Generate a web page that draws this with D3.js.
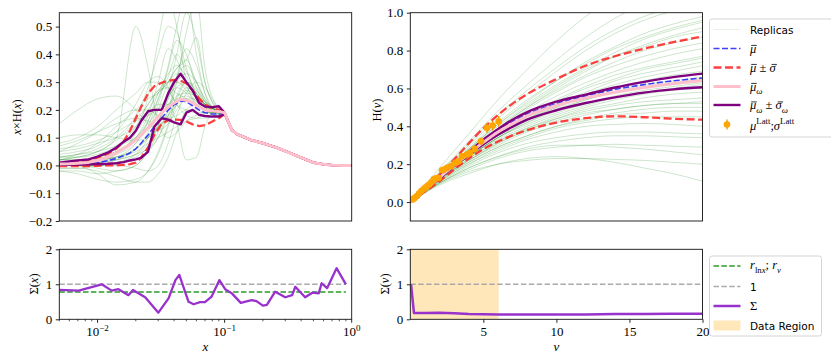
<!DOCTYPE html>
<html>
<head>
<meta charset="utf-8">
<script src="https://cdn.jsdelivr.net/npm/d3@7/dist/d3.min.js"></script>
<style>
  body { margin: 0; background: #fff; }
  svg { display: block; }
</style>
</head>
<body>
<svg id="chart" width="831" height="363"></svg>
<script>
// ---------- left panel: x * H(x) ----------
var xRep = [0.005, 0.007, 0.01, 0.014, 0.02, 0.025, 0.03, 0.036, 0.042, 0.05, 0.06, 0.07, 0.085, 0.1];
var replicasX = [
    [0.02, 0.03, 0.05, 0.09, 0.16, 0.22, 0.27, 0.3, 0.3, 0.27, 0.23, 0.2, 0.19, 0.19],
    [0.0, 0.01, 0.02, 0.05, 0.1, 0.15, 0.2, 0.25, 0.28, 0.26, 0.22, 0.2, 0.19, 0.19],
    [0.05, 0.08, 0.12, 0.17, 0.2, 0.2, 0.18, 0.17, 0.18, 0.2, 0.2, 0.19, 0.19, 0.19],
    [0.15, 0.2, 0.24, 0.25, 0.2, 0.15, 0.13, 0.15, 0.2, 0.24, 0.22, 0.2, 0.19, 0.19],
    [-0.02, -0.02, -0.03, -0.02, 0.0, 0.05, 0.12, 0.2, 0.28, 0.3, 0.25, 0.21, 0.19, 0.19],
    [0.01, 0.0, -0.03, -0.07, -0.06, -0.02, 0.05, 0.15, 0.25, 0.3, 0.27, 0.23, 0.2, 0.19],
    [0.0, 0.0, 0.0, 0.02, 0.06, 0.12, 0.22, 0.35, 0.45, 0.4, 0.28, 0.22, 0.2, 0.19],
    [0.03, 0.04, 0.06, 0.1, 0.18, 0.28, 0.4, 0.5, 0.48, 0.35, 0.25, 0.21, 0.19, 0.19],
    [0.0, 0.01, 0.01, 0.02, 0.04, 0.08, 0.15, 0.27, 0.4, 0.55, 0.45, 0.3, 0.21, 0.19],
    [0.02, 0.02, 0.03, 0.05, 0.1, 0.18, 0.3, 0.42, 0.38, 0.3, 0.25, 0.22, 0.2, 0.19],
    [0.06, 0.07, 0.09, 0.12, 0.16, 0.18, 0.2, 0.22, 0.24, 0.25, 0.23, 0.21, 0.2, 0.19],
    [0.0, 0.0, 0.0, 0.0, -0.01, -0.02, 0.0, 0.08, 0.18, 0.26, 0.3, 0.28, 0.22, 0.19],
    [0.1, 0.11, 0.11, 0.1, 0.09, 0.1, 0.13, 0.18, 0.24, 0.3, 0.28, 0.23, 0.2, 0.19],
    [-0.01, -0.01, -0.02, -0.04, -0.06, -0.06, -0.03, 0.03, 0.12, 0.2, 0.22, 0.2, 0.18, 0.19],
    [0.04, 0.05, 0.07, 0.12, 0.22, 0.3, 0.32, 0.28, 0.22, 0.18, 0.17, 0.17, 0.18, 0.19],
    [0.0, 0.0, 0.01, 0.03, 0.08, 0.16, 0.26, 0.33, 0.36, 0.32, 0.26, 0.22, 0.19, 0.19],
    [0.01, 0.02, 0.03, 0.06, 0.12, 0.18, 0.22, 0.22, 0.15, 0.02, 0.03, 0.14, 0.2, 0.19],
    [0.0, 0.0, 0.01, 0.04, 0.12, 0.25, 0.45, 0.6, 0.5, 0.3, 0.22, 0.2, 0.19, 0.19],
    [0.02, 0.03, 0.05, 0.1, 0.5, 0.35, 0.15, 0.1, 0.12, 0.16, 0.18, 0.19, 0.19, 0.19],
    [0.0, 0.0, 0.0, 0.01, 0.03, 0.07, 0.14, 0.24, 0.32, 0.36, 0.3, 0.24, 0.2, 0.19],
    [0.03, 0.03, 0.04, 0.07, 0.14, 0.22, 0.27, 0.28, 0.26, 0.24, 0.22, 0.2, 0.19, 0.19],
    [-0.01, -0.01, 0.0, 0.01, 0.04, 0.1, 0.2, 0.3, 0.35, 0.38, 0.46, 0.3, 0.21, 0.19],
    [0.07, 0.09, 0.12, 0.15, 0.17, 0.16, 0.15, 0.17, 0.22, 0.28, 0.26, 0.22, 0.2, 0.19],
    [0.0, 0.01, 0.02, 0.03, 0.05, 0.08, 0.1, 0.12, 0.14, 0.16, 0.17, 0.18, 0.18, 0.19],
    [0.01, 0.01, 0.02, 0.04, 0.08, 0.14, 0.24, 0.36, 0.5, 0.62, 0.4, 0.26, 0.2, 0.19],
    [0.02, 0.04, 0.08, 0.14, 0.2, 0.24, 0.26, 0.3, 0.33, 0.3, 0.24, 0.21, 0.19, 0.19],
    [0.0, 0.0, -0.01, -0.02, 0.0, 0.06, 0.16, 0.26, 0.3, 0.28, 0.24, 0.21, 0.19, 0.19],
    [0.05, 0.06, 0.08, 0.1, 0.14, 0.2, 0.26, 0.3, 0.35, 0.38, 0.3, 0.23, 0.2, 0.19],
    [0.0, 0.0, 0.01, 0.02, 0.04, 0.06, 0.1, 0.2, 0.32, 0.42, 0.36, 0.26, 0.2, 0.19],
    [0.08, 0.1, 0.14, 0.2, 0.26, 0.3, 0.3, 0.27, 0.22, 0.2, 0.19, 0.19, 0.19, 0.19],
    [0.01, 0.01, 0.02, 0.03, 0.06, 0.1, 0.16, 0.22, 0.25, 0.26, 0.25, 0.23, 0.2, 0.19],
    [-0.02, -0.03, -0.05, -0.06, -0.05, -0.02, 0.04, 0.14, 0.22, 0.27, 0.25, 0.22, 0.19, 0.19],
    [0.02, 0.02, 0.03, 0.05, 0.1, 0.16, 0.24, 0.32, 0.4, 0.34, 0.26, 0.22, 0.19, 0.19],
    [0.0, 0.01, 0.02, 0.03, 0.06, 0.1, 0.14, 0.18, 0.22, 0.24, 0.24, 0.22, 0.2, 0.19],
    [0.03, 0.04, 0.05, 0.07, 0.1, 0.14, 0.18, 0.24, 0.3, 0.33, 0.3, 0.24, 0.2, 0.19],
    [0.0, 0.0, 0.0, 0.01, 0.02, 0.05, 0.1, 0.18, 0.3, 0.48, 0.6, 0.35, 0.22, 0.19]
];
// shared tail above x ~ 0.1 where every replica coincides
var xTail = [0.105, 0.114, 0.125, 0.16, 0.2, 0.25, 0.3, 0.4, 0.5, 0.6, 0.7, 0.85, 1.0];
var hTail = [0.165, 0.128, 0.113, 0.092, 0.08, 0.066, 0.052, 0.028, 0.01, 0.004, 0.001, 0.0, 0.0];

var xFine = [0.005, 0.006, 0.007, 0.0085, 0.01, 0.012, 0.014, 0.016, 0.018, 0.02, 0.022, 0.025,
             0.028, 0.032, 0.036, 0.04, 0.045, 0.05, 0.056, 0.063, 0.07, 0.08, 0.09, 0.1];
var meanX    = [0.002, 0.003, 0.005, 0.007, 0.01, 0.017, 0.025, 0.035, 0.045, 0.06, 0.08, 0.11, 0.14, 0.17, 0.2, 0.218, 0.232, 0.23, 0.215, 0.2, 0.19, 0.185, 0.185, 0.188];
var meanXUp  = [0.008, 0.01, 0.014, 0.02, 0.028, 0.042, 0.06, 0.085, 0.125, 0.17, 0.21, 0.26, 0.285, 0.298, 0.305, 0.308, 0.305, 0.295, 0.27, 0.24, 0.22, 0.205, 0.2, 0.19];
var meanXLo  = [-0.002, -0.002, -0.002, -0.002, -0.001, 0.0, 0.0, 0.002, 0.005, 0.01, 0.028, 0.065, 0.11, 0.15, 0.163, 0.165, 0.164, 0.158, 0.148, 0.142, 0.145, 0.158, 0.17, 0.185];
var omegaX   = [0.005, 0.006, 0.008, 0.011, 0.018, 0.03, 0.045, 0.06, 0.075, 0.092, 0.11, 0.135, 0.16, 0.19, 0.21, 0.225, 0.238, 0.235, 0.225, 0.212, 0.2, 0.196, 0.194, 0.19];
var omegaXUp = [0.01, 0.014, 0.018, 0.022, 0.032, 0.046, 0.064, 0.085, 0.1, 0.125, 0.16, 0.195, 0.2, 0.2, 0.26, 0.3, 0.33, 0.3, 0.27, 0.225, 0.212, 0.21, 0.213, 0.19];
var omegaXLo = [0.002, 0.002, 0.003, 0.004, 0.005, 0.006, 0.008, 0.012, 0.018, 0.022, 0.027, 0.05, 0.14, 0.17, 0.165, 0.155, 0.148, 0.19, 0.2, 0.182, 0.178, 0.176, 0.176, 0.185];

// ---------- right panel: H(nu) ----------
var nuRep = [0, 1, 2, 4, 6, 8, 10, 12, 14, 16, 18, 20];
var replicasNu = [
    [0, 0.07, 0.14, 0.28, 0.41, 0.53, 0.64, 0.74, 0.82, 0.89, 0.94, 0.98],
    [0, 0.07, 0.14, 0.28, 0.41, 0.52, 0.62, 0.71, 0.79, 0.86, 0.91, 0.95],
    [0, 0.068, 0.135, 0.27, 0.39, 0.5, 0.6, 0.69, 0.77, 0.83, 0.88, 0.92],
    [0, 0.09, 0.18, 0.36, 0.54, 0.7, 0.85, 0.98, 1.08, 1.15, 1.2, 1.23],
    [0, 0.08, 0.16, 0.32, 0.48, 0.62, 0.75, 0.87, 0.97, 1.05, 1.11, 1.15],
    [0, 0.075, 0.15, 0.3, 0.44, 0.57, 0.69, 0.8, 0.89, 0.96, 1.01, 1.05],
    [0, 0.078, 0.155, 0.31, 0.46, 0.59, 0.71, 0.82, 0.91, 0.98, 1.03, 1.07],
    [0, 0.07, 0.14, 0.27, 0.39, 0.5, 0.59, 0.67, 0.74, 0.8, 0.84, 0.87],
    [0, 0.07, 0.13, 0.26, 0.37, 0.47, 0.56, 0.63, 0.69, 0.74, 0.78, 0.81],
    [0, 0.065, 0.13, 0.25, 0.36, 0.45, 0.53, 0.6, 0.65, 0.7, 0.73, 0.76],
    [0, 0.065, 0.13, 0.25, 0.35, 0.44, 0.51, 0.57, 0.62, 0.66, 0.69, 0.72],
    [0, 0.065, 0.13, 0.24, 0.34, 0.43, 0.5, 0.56, 0.6, 0.64, 0.67, 0.69],
    [0, 0.063, 0.125, 0.24, 0.34, 0.42, 0.48, 0.54, 0.58, 0.62, 0.64, 0.66],
    [0, 0.065, 0.13, 0.24, 0.34, 0.41, 0.47, 0.52, 0.56, 0.59, 0.61, 0.63],
    [0, 0.062, 0.12, 0.23, 0.32, 0.39, 0.45, 0.5, 0.54, 0.57, 0.59, 0.6],
    [0, 0.06, 0.12, 0.22, 0.31, 0.38, 0.44, 0.49, 0.52, 0.55, 0.57, 0.58],
    [0, 0.06, 0.12, 0.22, 0.3, 0.37, 0.42, 0.46, 0.49, 0.51, 0.52, 0.53],
    [0, 0.06, 0.115, 0.21, 0.29, 0.35, 0.4, 0.44, 0.47, 0.49, 0.5, 0.5],
    [0, 0.06, 0.115, 0.21, 0.29, 0.35, 0.4, 0.43, 0.46, 0.47, 0.48, 0.48],
    [0, 0.06, 0.11, 0.2, 0.28, 0.34, 0.39, 0.42, 0.44, 0.45, 0.45, 0.45],
    [0, 0.058, 0.11, 0.2, 0.27, 0.33, 0.37, 0.4, 0.41, 0.415, 0.41, 0.4],
    [0, 0.055, 0.105, 0.19, 0.26, 0.31, 0.34, 0.36, 0.37, 0.37, 0.365, 0.36],
    [0, 0.055, 0.1, 0.18, 0.24, 0.29, 0.32, 0.34, 0.35, 0.35, 0.345, 0.34],
    [0, 0.052, 0.1, 0.17, 0.23, 0.27, 0.29, 0.3, 0.305, 0.3, 0.295, 0.29],
    [0, 0.05, 0.095, 0.16, 0.2, 0.22, 0.23, 0.23, 0.225, 0.22, 0.21, 0.2],
    [0, 0.048, 0.09, 0.15, 0.2, 0.23, 0.24, 0.23, 0.21, 0.18, 0.15, 0.11],
    [0, 0.052, 0.1, 0.18, 0.24, 0.28, 0.3, 0.3, 0.29, 0.28, 0.265, 0.25],
    [0, 0.07, 0.14, 0.27, 0.38, 0.49, 0.58, 0.66, 0.72, 0.77, 0.81, 0.84],
    [0, 0.072, 0.14, 0.28, 0.4, 0.51, 0.61, 0.7, 0.77, 0.82, 0.87, 0.9],
    [0, 0.066, 0.13, 0.25, 0.36, 0.45, 0.52, 0.58, 0.64, 0.68, 0.71, 0.74],
    [0, 0.064, 0.125, 0.24, 0.33, 0.4, 0.46, 0.51, 0.55, 0.58, 0.6, 0.62],
    [0, 0.068, 0.135, 0.25, 0.35, 0.44, 0.5, 0.55, 0.6, 0.63, 0.66, 0.68],
    [0, 0.073, 0.145, 0.29, 0.42, 0.54, 0.64, 0.73, 0.81, 0.87, 0.92, 0.96],
    [0, 0.062, 0.12, 0.23, 0.32, 0.39, 0.44, 0.48, 0.51, 0.53, 0.54, 0.55],
    [0, 0.068, 0.135, 0.26, 0.37, 0.46, 0.54, 0.61, 0.67, 0.71, 0.74, 0.77],
    [0, 0.064, 0.13, 0.24, 0.34, 0.42, 0.49, 0.54, 0.58, 0.61, 0.63, 0.65],
    [0, 0.06, 0.12, 0.22, 0.31, 0.38, 0.43, 0.47, 0.49, 0.51, 0.52, 0.52]
];
var nuMean    = [0, 1, 2, 3, 4, 5, 6, 7, 8, 10, 12, 14, 16, 18, 20];
var meanNu    = [0, 0.066, 0.133, 0.2, 0.265, 0.325, 0.38, 0.425, 0.465, 0.52, 0.56, 0.595, 0.62, 0.64, 0.655];
var meanNuUp  = [0, 0.072, 0.145, 0.225, 0.31, 0.39, 0.46, 0.52, 0.57, 0.65, 0.72, 0.77, 0.81, 0.845, 0.874];
var meanNuLo  = [0, 0.055, 0.11, 0.172, 0.23, 0.28, 0.32, 0.352, 0.38, 0.42, 0.443, 0.453, 0.448, 0.44, 0.435];
var omegaNu   = [0, 0.065, 0.13, 0.195, 0.255, 0.315, 0.37, 0.415, 0.455, 0.51, 0.55, 0.58, 0.605, 0.625, 0.642];
var omegaNuUp = [0, 0.067, 0.135, 0.2, 0.265, 0.33, 0.385, 0.435, 0.475, 0.53, 0.567, 0.605, 0.635, 0.66, 0.678];
var omegaNuLo = [0, 0.063, 0.125, 0.19, 0.25, 0.305, 0.355, 0.398, 0.435, 0.485, 0.523, 0.553, 0.578, 0.595, 0.606];

// lattice data
var latNu  = [0.16, 0.3, 0.46, 0.6, 0.75, 0.9, 1.03, 1.18, 1.3, 1.45, 1.6, 1.75, 1.94, 2.17, 2.3, 2.51, 2.8, 3.08, 3.3, 3.54, 3.88, 4.1, 4.41, 4.84, 5.25, 5.64, 6.05];
var latH   = [0.014, 0.022, 0.032, 0.045, 0.058, 0.068, 0.076, 0.086, 0.093, 0.105, 0.12, 0.125, 0.128, 0.168, 0.172, 0.181, 0.19, 0.207, 0.215, 0.242, 0.251, 0.26, 0.281, 0.321, 0.391, 0.404, 0.426];
var latErr = [0.003, 0.003, 0.004, 0.004, 0.005, 0.005, 0.006, 0.006, 0.007, 0.007, 0.008, 0.008, 0.009, 0.01, 0.01, 0.011, 0.012, 0.013, 0.014, 0.015, 0.016, 0.017, 0.018, 0.02, 0.026, 0.026, 0.028];

// ---------- lower panels: Sigma ----------
var sigX    = [0.005, 0.0071, 0.0108, 0.0129, 0.0146, 0.0175, 0.019, 0.0237, 0.0301, 0.0362, 0.041, 0.044, 0.052, 0.057, 0.064, 0.07, 0.079, 0.091, 0.101, 0.114, 0.134, 0.163, 0.178, 0.2, 0.215, 0.25, 0.3, 0.34, 0.36, 0.43, 0.49, 0.55, 0.58, 0.64, 0.76, 0.9];
var sigXVal = [0.84, 0.82, 1.0, 0.82, 0.86, 0.69, 0.84, 0.63, 0.19, 0.6, 1.12, 1.27, 0.5, 0.43, 0.49, 0.49, 0.65, 1.12, 0.86, 0.74, 0.47, 0.55, 0.52, 0.39, 0.41, 0.79, 0.63, 0.69, 0.93, 0.63, 0.76, 0.74, 1.03, 0.89, 1.46, 1.0];
var rLnx = 0.78;
var unity = 1;
var sigNu    = [0.05, 0.25, 1, 2, 3, 4, 6, 8, 10, 12, 14, 16, 18, 20];
var sigNuVal = [1.0, 0.18, 0.18, 0.19, 0.17, 0.15, 0.14, 0.14, 0.14, 0.14, 0.15, 0.15, 0.16, 0.16];
var dataRegion = [0, 6.05];

// ---------- ticks ----------
var ticksTopL = [-0.2, -0.1, 0.0, 0.1, 0.2, 0.3, 0.4, 0.5];
var ticksTopR = [0.0, 0.2, 0.4, 0.6, 0.8, 1.0];
var ticksSig  = [0, 1, 2];
var ticksNu   = [5, 10, 15, 20];
var logMajor  = [0.01, 0.1, 1];
var logLabels = ["\u22122", "\u22121", "0"];
var logMinor  = [0.005, 0.006, 0.007, 0.008, 0.009, 0.02, 0.03, 0.04, 0.05, 0.06, 0.07, 0.08, 0.09,
                 0.2, 0.3, 0.4, 0.5, 0.6, 0.7, 0.8, 0.9];

var serif = "'Liberation Serif', 'DejaVu Serif', serif";
var sans = "'DejaVu Sans', 'Liberation Sans', sans-serif";
var replicaColor = "rgba(0,128,0,0.2)";
var redDash = "rgba(255,30,30,0.85)";
var blueDash = "rgba(30,30,255,0.85)";

var svg = d3.select("#chart");

var L = {x0: 59.3, x1: 351.7}, R = {x0: 410.3, x1: 702.5};
var upper = {y0: 12.7, y1: 221}, lower = {y0: 249.3, y1: 319.3};

var xL = d3.scaleLog().domain([0.005, 1]).range([L.x0, L.x1]);
var xR = d3.scaleLinear().domain([0, 20]).range([R.x0, R.x1]);
var yL = d3.scaleLinear().domain([-0.2, 0.55]).range([upper.y1, upper.y0]);
var yR = d3.scaleLinear().domain([-0.1, 1.0]).range([upper.y1, upper.y0]);
var yS = d3.scaleLinear().domain([0, 2]).range([lower.y1, lower.y0]);

var defs = svg.append("defs");
var clip = function(id, px, py) {
    defs.append("clipPath").attr("id", id).append("rect")
        .attr("x", px.x0).attr("y", py.y0)
        .attr("width", px.x1 - px.x0).attr("height", py.y1 - py.y0);
    return svg.append("g").attr("clip-path", "url(#" + id + ")");
};

var gTL = clip("cTL", L, upper), gTR = clip("cTR", R, upper);
var gBL = clip("cBL", L, lower), gBR = clip("cBR", R, lower);

var zip = function(xs, ys) { return xs.map(function(x, i) { return [x, ys[i]]; }); };
var withTail = function(xs, ys) { return zip(xs, ys).concat(zip(xTail, hTail)); };

var lineL = d3.line().x(function(d) { return xL(d[0]); }).y(function(d) { return yL(d[1]); });
var smoothL = d3.line().curve(d3.curveMonotoneX).x(function(d) { return xL(d[0]); }).y(function(d) { return yL(d[1]); });
var lineR = d3.line().curve(d3.curveMonotoneX).x(function(d) { return xR(d[0]); }).y(function(d) { return yR(d[1]); });

var draw = function(g, gen, pts, color, width, dash) {
    var p = g.append("path").attr("d", gen(pts)).attr("fill", "none")
        .attr("stroke", color).attr("stroke-width", width)
        .attr("stroke-linejoin", "round");
    if (dash) p.attr("stroke-dasharray", dash);
    return p;
};

// ---- top left ----
replicasX.forEach(function(r) { draw(gTL, smoothL, withTail(xRep, r), replicaColor, 1); });
draw(gTL, lineL, withTail(xFine, meanXUp), redDash, 2.3, "8,3.5");
draw(gTL, lineL, withTail(xFine, meanXLo), redDash, 2.3, "8,3.5");
draw(gTL, lineL, withTail(xFine, meanX), blueDash, 1.6, "6,2.5");
draw(gTL, lineL, withTail(xFine, omegaXUp), "purple", 2.4);
draw(gTL, lineL, withTail(xFine, omegaXLo), "purple", 2.4);
draw(gTL, lineL, withTail(xFine, omegaX), "pink", 3);

// ---- top right ----
replicasNu.forEach(function(r) { draw(gTR, lineR, zip(nuRep, r), replicaColor, 1); });
draw(gTR, lineR, zip(nuMean, meanNuUp), redDash, 2.3, "8,3.5");
draw(gTR, lineR, zip(nuMean, meanNuLo), redDash, 2.3, "8,3.5");
draw(gTR, lineR, zip(nuMean, meanNu), blueDash, 1.6, "6,2.5");
draw(gTR, lineR, zip(nuMean, omegaNuUp), "purple", 2.4);
draw(gTR, lineR, zip(nuMean, omegaNuLo), "purple", 2.4);
draw(gTR, lineR, zip(nuMean, omegaNu), "pink", 3);

var lat = gTR.append("g");
latNu.forEach(function(nu, i) {
    lat.append("line").attr("x1", xR(nu)).attr("x2", xR(nu))
        .attr("y1", yR(latH[i] - latErr[i])).attr("y2", yR(latH[i] + latErr[i]))
        .attr("stroke", "#e69a00").attr("stroke-width", 1.3);
});
latNu.forEach(function(nu, i) {
    lat.append("circle").attr("cx", xR(nu)).attr("cy", yR(latH[i])).attr("r", 3.3).attr("fill", "orange");
});

// ---- bottom left ----
var lineBL = d3.line().x(function(d) { return xL(d[0]); }).y(function(d) { return yS(d[1]); });
var xEnds = [sigX[0], sigX[sigX.length - 1]];
draw(gBL, lineBL, zip(xEnds, [unity, unity]), "#aaa", 1.6, "5.5,2.4");
draw(gBL, lineBL, zip(xEnds, [rLnx, rLnx]), "#2a9a2a", 1.6, "5.5,2.4");
draw(gBL, lineBL, zip(sigX, sigXVal), "darkorchid", 2.3);

// ---- bottom right ----
var lineBR = d3.line().x(function(d) { return xR(d[0]); }).y(function(d) { return yS(d[1]); });
gBR.append("rect").attr("x", xR(dataRegion[0])).attr("y", lower.y0)
    .attr("width", xR(dataRegion[1]) - xR(dataRegion[0])).attr("height", lower.y1 - lower.y0)
    .attr("fill", "rgba(255,165,0,0.27)");
draw(gBR, lineBR, zip([0, 20], [unity, unity]), "#aaa", 1.6, "5.5,2.4");
draw(gBR, lineBR, zip(sigNu, sigNuVal), "darkorchid", 2.5);

// ---- frames and axes ----
var frame = function(px, py) {
    svg.append("rect").attr("x", px.x0).attr("y", py.y0)
        .attr("width", px.x1 - px.x0).attr("height", py.y1 - py.y0)
        .attr("fill", "none").attr("stroke", "#111").attr("stroke-width", 0.9);
};
frame(L, upper); frame(R, upper); frame(L, lower); frame(R, lower);

var styleAxis = function(g) {
    g.select(".domain").remove();
    g.selectAll(".tick line").attr("stroke", "#111").attr("stroke-width", 0.9);
    g.selectAll(".tick text").attr("font-family", serif).attr("font-size", 13).attr("fill", "#000");
};

svg.append("g").attr("transform", "translate(" + L.x0 + ",0)")
    .call(d3.axisLeft(yL).tickValues(ticksTopL).tickFormat(d3.format(".1f")).tickSize(3.5).tickPadding(3.5))
    .call(styleAxis);
svg.append("g").attr("transform", "translate(" + R.x0 + ",0)")
    .call(d3.axisLeft(yR).tickValues(ticksTopR).tickFormat(d3.format(".1f")).tickSize(3.5).tickPadding(3.5))
    .call(styleAxis);
svg.append("g").attr("transform", "translate(" + L.x0 + ",0)")
    .call(d3.axisLeft(yS).tickValues(ticksSig).tickFormat(d3.format("d")).tickSize(3.5).tickPadding(3.5))
    .call(styleAxis);
svg.append("g").attr("transform", "translate(" + R.x0 + ",0)")
    .call(d3.axisLeft(yS).tickValues(ticksSig).tickFormat(d3.format("d")).tickSize(3.5).tickPadding(3.5))
    .call(styleAxis);
svg.append("g").attr("transform", "translate(0," + lower.y1 + ")")
    .call(d3.axisBottom(xR).tickValues(ticksNu).tickFormat(d3.format("d")).tickSize(3.5).tickPadding(3.5))
    .call(styleAxis);

// log axis (bottom left)
var logAx = svg.append("g").attr("transform", "translate(0," + lower.y1 + ")");
logMinor.forEach(function(v) {
    logAx.append("line").attr("x1", xL(v)).attr("x2", xL(v)).attr("y1", 0).attr("y2", 2)
        .attr("stroke", "#111").attr("stroke-width", 0.7);
});
logMajor.forEach(function(v, i) {
    logAx.append("line").attr("x1", xL(v)).attr("x2", xL(v)).attr("y1", 0).attr("y2", 3.5)
        .attr("stroke", "#111").attr("stroke-width", 0.9);
    var t = logAx.append("text").attr("x", xL(v)).attr("y", 17).attr("text-anchor", "middle")
        .attr("font-family", serif).attr("font-size", 13);
    t.append("tspan").text("10");
    t.append("tspan").attr("dy", -5).attr("font-size", 9).text(logLabels[i]);
});

// ---- math text helper ----
var mathText = function(parent, parts, size) {
    var text = parent.append("text").attr("font-family", serif).attr("font-size", size).attr("fill", "#000");
    var off = 0;
    parts.forEach(function(p) {
        var small = p.sub || p.sup;
        var target = p.sub ? size * 0.28 : (p.sup ? -size * 0.42 : 0);
        text.append("tspan").attr("dy", target - off)
            .attr("class", p.bar ? "bar" : null)
            .attr("font-style", p.it ? "italic" : "normal")
            .attr("font-size", small ? size * 0.7 : size)
            .text(p.t);
        off = target;
    });
    return text;
};
// overbars for barred symbols (call after the text is positioned)
var addBars = function(text) {
    text.selectAll("tspan.bar").each(function() {
        var b = this.getBBox();
        svg.append("line").attr("x1", b.x + b.width * 0.3).attr("x2", b.x + b.width + 0.5)
            .attr("y1", b.y + b.height * 0.28).attr("y2", b.y + b.height * 0.28)
            .attr("stroke", "#000").attr("stroke-width", 0.8);
    });
};

// axis labels
mathText(svg, [{t: "x", it: 1}, {t: "\u00d7H("}, {t: "x", it: 1}, {t: ")"}], 12.5)
    .attr("text-anchor", "middle").attr("transform", "translate(21,117) rotate(-90)");
mathText(svg, [{t: "H("}, {t: "\u03bd", it: 1}, {t: ")"}], 12.5)
    .attr("text-anchor", "middle").attr("transform", "translate(381,110) rotate(-90)");
mathText(svg, [{t: "\u03a3("}, {t: "x", it: 1}, {t: ")"}], 12.5)
    .attr("text-anchor", "middle").attr("transform", "translate(38,284) rotate(-90)");
mathText(svg, [{t: "\u03a3("}, {t: "\u03bd", it: 1}, {t: ")"}], 12.5)
    .attr("text-anchor", "middle").attr("transform", "translate(389,284) rotate(-90)");
mathText(svg, [{t: "x", it: 1}], 13).attr("text-anchor", "middle").attr("x", (L.x0 + L.x1) / 2).attr("y", 351);
mathText(svg, [{t: "\u03bd", it: 1}], 13).attr("text-anchor", "middle").attr("x", (R.x0 + R.x1) / 2).attr("y", 351);

// ---- legends ----
var legendBox = function(x, y, w, h) {
    svg.append("rect").attr("x", x).attr("y", y).attr("width", w).attr("height", h)
        .attr("rx", 2.5).attr("fill", "rgba(255,255,255,0.85)").attr("stroke", "#d0d0d0").attr("stroke-width", 0.9);
};
var hx0 = 713.5, hx1 = 740.5, tx = 750;
var handle = function(y, color, width, dash) {
    var l = svg.append("line").attr("x1", hx0).attr("x2", hx1).attr("y1", y).attr("y2", y)
        .attr("stroke", color).attr("stroke-width", width);
    if (dash) l.attr("stroke-dasharray", dash);
};

legendBox(709.5, 19, 124, 118);
var rows1 = [29.5, 48.5, 67.5, 86.5, 105, 124.5];
handle(rows1[0], "rgba(0,128,0,0.1)", 1);
handle(rows1[1], blueDash, 1.6, "6,2.5");
handle(rows1[2], redDash, 2.3, "8,3.5");
handle(rows1[3], "pink", 3);
handle(rows1[4], "purple", 2.4);
svg.append("line").attr("x1", 727).attr("x2", 727).attr("y1", rows1[5] - 5).attr("y2", rows1[5] + 5)
    .attr("stroke", "#e69a00").attr("stroke-width", 1.3);
svg.append("circle").attr("cx", 727).attr("cy", rows1[5]).attr("r", 3.3).attr("fill", "orange");

svg.append("text").attr("x", tx).attr("y", rows1[0] + 4).attr("font-family", sans).attr("font-size", 10.5).text("Replicas");
var mu = {t: "\u03bc", it: 1, bar: 1}, sg = {t: "\u03c3", it: 1, bar: 1}, om = {t: "\u03c9", it: 1, sub: 1};
var pm = {t: " \u00b1 "};
addBars(mathText(svg, [mu], 12.5).attr("x", tx).attr("y", rows1[1] + 4));
addBars(mathText(svg, [mu, pm, sg], 12.5).attr("x", tx).attr("y", rows1[2] + 4));
addBars(mathText(svg, [mu, om], 12.5).attr("x", tx).attr("y", rows1[3] + 4));
addBars(mathText(svg, [mu, om, pm, sg, om], 12.5).attr("x", tx).attr("y", rows1[4] + 4));
mathText(svg, [{t: "\u03bc", it: 1}, {t: "Latt", sup: 1}, {t: ";"}, {t: "\u03c3", it: 1}, {t: "Latt", sup: 1}], 12.5)
    .attr("x", tx).attr("y", rows1[5] + 5);

legendBox(709.5, 256, 112, 80);
var rows2 = [266, 286.5, 306, 325.5];
handle(rows2[0], "#2a9a2a", 1.6, "5.5,2.4");
handle(rows2[1], "#aaa", 1.6, "5.5,2.4");
handle(rows2[2], "darkorchid", 2.5);
svg.append("rect").attr("x", hx0).attr("y", rows2[3] - 5).attr("width", hx1 - hx0).attr("height", 10)
    .attr("fill", "rgba(255,165,0,0.27)");
mathText(svg, [{t: "r", it: 1}, {t: "ln", sub: 1}, {t: "x", it: 1, sub: 1}, {t: "; "}, {t: "r", it: 1}, {t: "\u03bd", it: 1, sub: 1}], 12.5)
    .attr("x", tx).attr("y", rows2[0] + 3);
svg.append("text").attr("x", tx).attr("y", rows2[1] + 4).attr("font-family", sans).attr("font-size", 10.5).text("1");
mathText(svg, [{t: "\u03a3"}], 12.5).attr("x", tx).attr("y", rows2[2] + 4);
svg.append("text").attr("x", tx).attr("y", rows2[3] + 4).attr("font-family", sans).attr("font-size", 10.5).text("Data Region");
</script>
</body>
</html>
